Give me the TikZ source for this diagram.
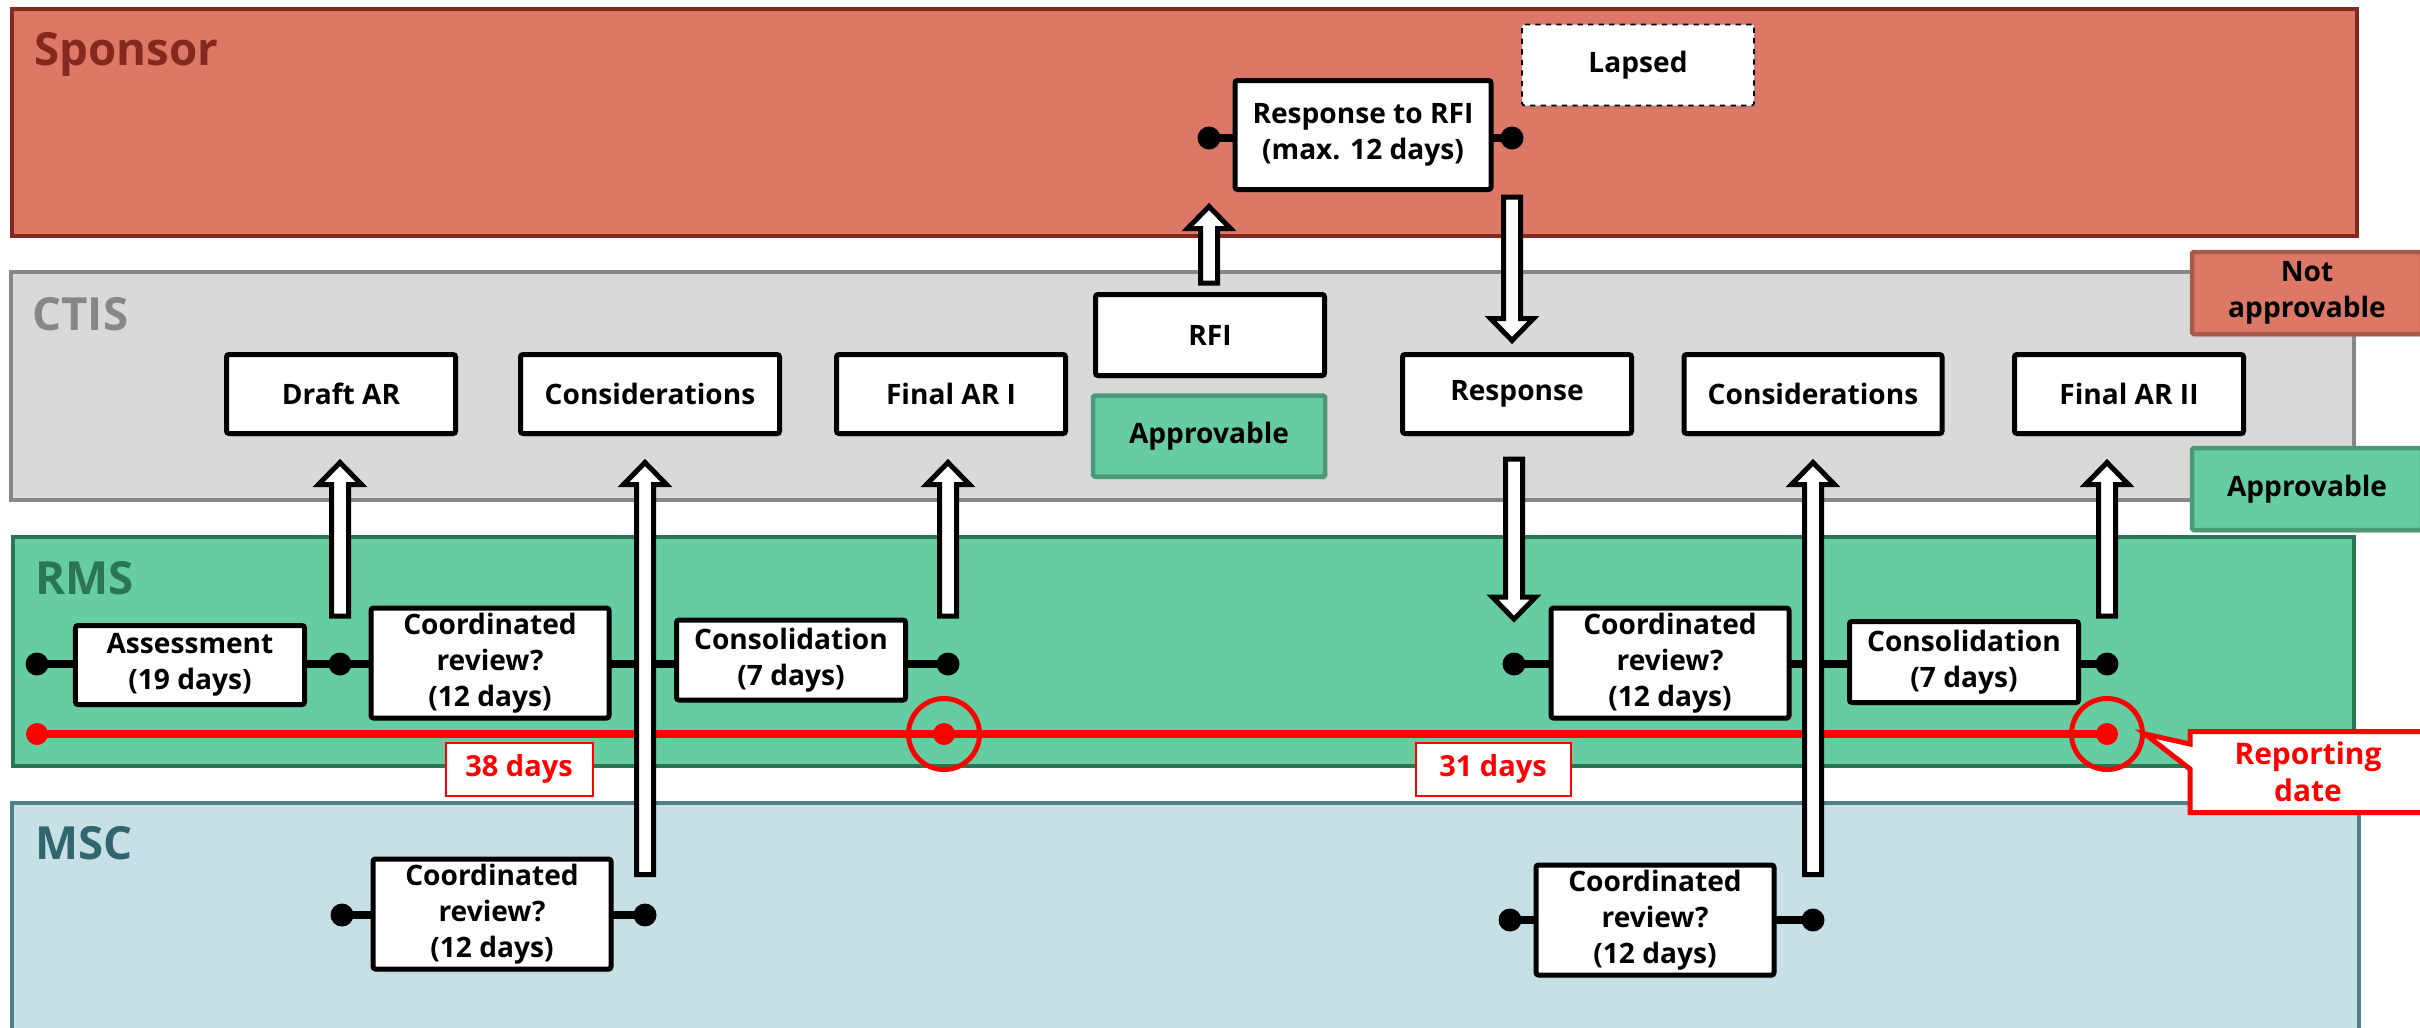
\documentclass[tikz,border=0pt]{standalone}
\usepackage{fontspec}
\setmainfont{Open Sans}
\usetikzlibrary{calc,shapes.callouts,shadows}

\definecolor{sponsorfill}{HTML}{DD7866}
\definecolor{sponsorline}{HTML}{85291F}
\definecolor{ctisfill}{HTML}{D9D9D9}
\definecolor{ctisline}{HTML}{878787}
\definecolor{rmsfill}{HTML}{66CDA3}
\definecolor{rmsline}{HTML}{2A7553}
\definecolor{mscfill}{HTML}{C6E0E5}
\definecolor{mscline}{HTML}{4B808A}
\definecolor{mscname}{HTML}{31656F}
\definecolor{okline}{HTML}{4A9A78}
\definecolor{nokline}{HTML}{A85A4A}

\tikzset{
  lane/.style={line width=0.9mm},
  lanename/.style={anchor=base west, inner sep=0pt, font=\fontsize{26}{30}\selectfont\bfseries},
  box/.style={draw, fill=white, line width=1mm, rounded corners=0.5mm, align=center, inner sep=0pt,
    font=\fontsize{16}{20.5}\selectfont\bfseries, minimum width=45.8mm, minimum height=15.8mm,
    drop shadow={shadow xshift=0.4mm, shadow yshift=-0.6mm, opacity=0.25}},
  tall/.style={box, minimum width=47.6mm, minimum height=22mm},
  okbox/.style={box, fill=rmsfill, draw=okline, line width=0.9mm, rounded corners=0.3mm},
  nokbox/.style={box, fill=sponsorfill, draw=nokline, line width=0.9mm, rounded corners=0.3mm},
  milestone/.style={circle, fill=black, inner sep=0pt, minimum size=4.6mm},
  link/.style={line width=1.5mm},
  redring/.style={circle, draw=red, line width=1mm, inner sep=0pt, minimum size=14.2mm},
  daysbox/.style={draw=red, line width=0.4mm, fill=white, text=red, inner sep=0pt,
    font=\fontsize{16.5}{20.5}\selectfont\bfseries, minimum width=29.4mm, minimum height=10.6mm},
  fat/.style={draw, fill=white, line width=1mm, to path={
    ($(\tikztostart)!1.7mm!90:(\tikztotarget)$)
    -- ($(\tikztotarget)!4.4mm!(\tikztostart)!1.7mm!-90:(\tikztostart)$)
    -- ($(\tikztotarget)!4.4mm!(\tikztostart)!4.3mm!-90:(\tikztostart)$)
    -- (\tikztotarget)
    -- ($(\tikztotarget)!4.4mm!(\tikztostart)!4.3mm!90:(\tikztostart)$)
    -- ($(\tikztotarget)!4.4mm!(\tikztostart)!1.7mm!90:(\tikztostart)$)
    -- ($(\tikztostart)!1.7mm!-90:(\tikztotarget)$) -- cycle}}
}

\begin{document}
\begin{tikzpicture}[x=0.2mm, y=-0.2mm]
	\useasboundingbox (0,0) rectangle (2420,1027);
	\clip (0,0) rectangle (2420,1027);
	
	% lanes
	\draw[lane, draw=sponsorline, fill=sponsorfill] (12,9) rectangle (2357,236);
	\draw[lane, draw=ctisline, fill=ctisfill] (11,272) rectangle (2354,500);
	\draw[lane, draw=rmsline, fill=rmsfill] (13,537) rectangle (2354,766);
	\draw[lane, draw=mscline, fill=mscfill] (12,803) rectangle (2359,1045);
	\node[lanename, text=sponsorline] (nsponsor) at (34,65) {Sponsor};
	\node[lanename, text=ctisline] (nctis) at (32,330) {CTIS};
	\node[lanename, text=rmsline] (nrms) at (35,594) {RMS};
	\node[lanename, text=mscname] (nmsc) at (35,859) {MSC};
	
	% reporting timeline
	\node[circle, fill=red, inner sep=0pt, minimum size=4.4mm] (start) at (37,734) {};
	\node[redring] (rep1) at (944,734) {};
	\node[redring] (rep2) at (2107,734) {};
	\draw[red, line width=1.6mm] (start.center) -- (rep2.center);
	\fill[red] (rep1.center) circle (2.2mm);
	\fill[red] (rep2.center) circle (2.2mm);
	
	% milestones
	\node[milestone] (m0) at (37,664) {};
	\node[milestone] (m1) at (340,664) {};
	\node[milestone] (m2) at (948,664) {};
	\node[milestone] (m3) at (1514,664) {};
	\node[milestone] (m4) at (2107,664) {};
	\node[milestone] (r0) at (1209,138) {};
	\node[milestone] (r1) at (1512,138) {};
	\node[milestone] (c0) at (342,915) {};
	\node[milestone] (c1) at (645,915) {};
	\node[milestone] (c2) at (1510,920) {};
	\node[milestone] (c3) at (1813,920) {};
	\draw[link] (m0.center) -- (m2.center);
	\draw[link] (m3.center) -- (m4.center);
	\draw[link] (r0.center) -- (r1.center);
	\draw[link] (c0.center) -- (c1.center);
	\draw[link] (c2.center) -- (c3.center);
	
	% sponsor
	\node[box, minimum width=51.2mm, minimum height=21.8mm] (rfiresp) at (1363,135) {Response to RFI\\(max. 12 days)};
	\node[box, dashed, line width=0.35mm, minimum width=46.4mm, minimum height=16.2mm] (lapsed) at (1638,65) {Lapsed};
	
	% ctis
	\node[box] (draft) at (341,394) {Draft AR};
	\node[box, minimum width=51.8mm] (consid1) at (650,394) {Considerations};
	\node[box] (final1) at (951,394) {Final AR I};
	\node[box, minimum height=16.2mm] (rfi) at (1210,335) {RFI};
	\node[okbox, minimum width=46.4mm, minimum height=16.2mm] (appr) at (1209,436) {Approvable};
	\node[box] (resp) at (1517,394) {Response};
	\node[box, minimum width=51.6mm] (consid2) at (1813,394) {Considerations};
	\node[box] (final2) at (2129,394) {Final AR II};
	\node[nokbox, minimum width=46mm, minimum height=16.4mm] (notappr) at (2307,293) {Not\\approvable};
	\node[okbox, minimum width=46mm, minimum height=16.4mm] (apprright) at (2307,489) {Approvable};
	
	% rms
	\node[box] (assess) at (190,665) {Assessment\\(19 days)};
	\node[tall] (coord1) at (490,663) {Coordinated\\review?\\(12 days)};
	\node[box, minimum height=16mm] (consol1) at (791,660) {Consolidation\\(7 days)};
	\node[tall] (coord2) at (1670,663) {Coordinated\\review?\\(12 days)};
	\node[box, minimum height=16.2mm] (consol2) at (1964,662) {Consolidation\\(7 days)};
	\node[daysbox] (d38) at (519,769) {38 days};
	\node[daysbox, minimum width=31mm] (d31) at (1493,769) {31 days};
	\node[rectangle callout, callout absolute pointer={(rep2.east)}, callout pointer width=5mm,
		draw=red, line width=1mm, fill=white, text=red, align=center, inner sep=0pt,
		font=\fontsize{17}{21}\selectfont\bfseries, minimum width=47.2mm, minimum height=16.2mm] (report) at (2308,772) {Reporting\\date};
	
	% msc
	\node[tall] (msc1) at (492,914) {Coordinated\\review?\\(12 days)};
	\node[tall] (msc2) at (1655,920) {Coordinated\\review?\\(12 days)};
	
	% hand-overs
	\draw[fat] ([yshift=7.2mm]m1.north) to ([yshift=-5.3mm]m1 |- draft.south);
	\draw[fat] ([yshift=5.7mm]c1.north) to ([yshift=-5.3mm]c1 |- consid1.south);
	\draw[fat] ([yshift=7.2mm]m2.north) to ([yshift=-5.3mm]m2 |- final1.south);
	\draw[fat] ([yshift=1.8mm]r0 |- rfi.north) to ([yshift=-2.9mm]r0 |- rfiresp.south);
	\draw[fat] ([yshift=-1mm]r1 |- rfiresp.south) to ([yshift=2.3mm]r1 |- resp.north);
	\draw[fat] ([yshift=-4.6mm]m3 |- resp.south) to ([yshift=6.6mm]m3.north);
	\draw[fat] ([yshift=6.7mm]c3.north) to ([yshift=-5.3mm]c3 |- consid2.south);
	\draw[fat] ([yshift=7.2mm]m4.north) to ([yshift=-5.3mm]m4 |- final2.south);
\end{tikzpicture}
\end{document}
